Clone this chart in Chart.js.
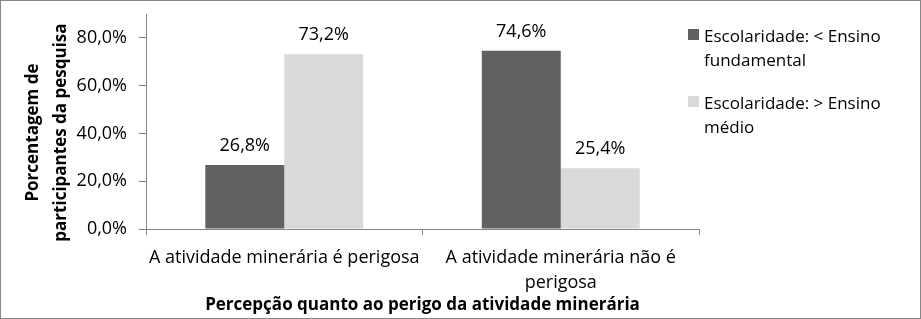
<!DOCTYPE html>
<html>
<head>
<meta charset="utf-8">
<script src="https://cdn.jsdelivr.net/npm/chart.js@4.4.1/dist/chart.umd.min.js"></script>
<style>
    html, body { margin: 0; padding: 0; background: #fff; }
    #wrap { width: 921px; height: 319px; box-sizing: border-box; border: 1px solid #868686; }
    canvas { display: block; }
</style>
</head>
<body>
<div id="wrap"><canvas id="chart" width="919" height="317"></canvas></div>
<script>
// data
const categories = [
    ["A atividade minerária é perigosa"],
    ["A atividade minerária não é", "perigosa"],
];
const seriesNames = [
    ["Escolaridade: < Ensino", "fundamental"],
    ["Escolaridade: > Ensino", "médio"],
];
const lowSchooling = [26.8, 74.6];
const highSchooling = [73.2, 25.4];
const yTicks = [0, 20, 40, 60, 80];

const fmt = (v) => v.toFixed(1).replace(".", ",") + "%";

const FONT = '"Open Sans", Lato, sans-serif';
Chart.defaults.font.family = FONT;
Chart.defaults.font.size = 18;
Chart.defaults.color = "#000";

// value labels above the bars
const valueLabels = {
    id: "valueLabels",
    afterDatasetsDraw(chart) {
        const ctx = chart.ctx;
        ctx.save();
        ctx.font = "18px " + FONT;
        ctx.fillStyle = "#000";
        ctx.textAlign = "center";
        ctx.textBaseline = "middle";
        chart.data.datasets.forEach((ds, i) => {
            chart.getDatasetMeta(i).data.forEach((bar, j) => {
                ctx.fillText(fmt(ds.data[j]), bar.x, bar.y - 19);
            });
        });
        ctx.restore();
    },
};

// legend on the right, with wrapped text
const sideLegend = {
    id: "sideLegend",
    afterDraw(chart) {
        const ctx = chart.ctx;
        ctx.save();
        ctx.font = "17px " + FONT;
        ctx.textAlign = "left";
        ctx.textBaseline = "middle";
        chart.data.datasets.forEach((ds, i) => {
            const top = 28 + i * 67;
            ctx.fillStyle = ds.backgroundColor;
            ctx.fillRect(687, top, 11, 11);
            ctx.fillStyle = "#000";
            ds.label.forEach((line, k) => {
                ctx.fillText(line, 703, top + 8 + k * 24);
            });
        });
        ctx.restore();
    },
};

new Chart(document.getElementById("chart"), {
    type: "bar",
    data: {
        labels: categories,
        datasets: [
            { label: seriesNames[0], data: lowSchooling, backgroundColor: "#616161" },
            { label: seriesNames[1], data: highSchooling, backgroundColor: "#d9d9d9" },
        ],
    },
    options: {
        responsive: false,
        animation: false,
        barPercentage: 1,
        categoryPercentage: 0.571,
        layout: { padding: { top: 13, right: 221, left: 18, bottom: 3 } },
        plugins: { legend: { display: false }, tooltip: { enabled: false } },
        scales: {
            x: {
                grid: { drawOnChartArea: false, color: "#868686", tickLength: 6, offset: true },
                border: { color: "#868686" },
                ticks: {
                    padding: 10,
                    maxRotation: 0,
                    minRotation: 0,
                    autoSkip: false,
                    font: { size: 18, lineHeight: 1.42 },
                },
                title: {
                    display: true,
                    text: "Percepção quanto ao perigo da atividade minerária",
                    font: { size: 17, weight: "bold", lineHeight: 1.2 },
                    padding: 0,
                },
                afterFit: (s) => { s.height = 86; s.paddingLeft = 0; s.paddingRight = 0; },
            },
            y: {
                min: 0,
                max: 90,
                afterBuildTicks: (axis) => { axis.ticks = yTicks.map((v) => ({ value: v })); },
                grid: { drawOnChartArea: false, color: "#868686", tickLength: 7 },
                border: { color: "#868686" },
                ticks: { padding: 12, callback: (v) => fmt(v) },
                title: {
                    display: true,
                    text: ["Porcentagem de\u00a0\u00a0\u00a0\u00a0\u00a0", "participantes da pesquisa\u00a0\u00a0\u00a0\u00a0\u00a0"],
                    font: { size: 17, weight: "bold", lineHeight: 1.65 },
                    padding: 0,
                },
                afterFit: (s) => { s.width = 127; s.paddingTop = 0; s.paddingBottom = 0; },
            },
        },
    },
    plugins: [valueLabels, sideLegend],
});
</script>
</body>
</html>
